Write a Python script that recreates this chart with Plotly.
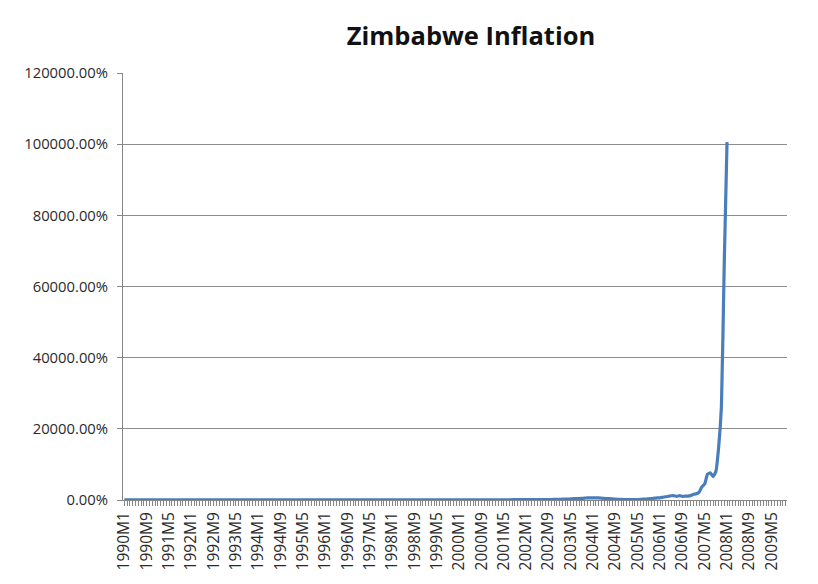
import plotly.graph_objects as go

# Monthly categories 1990M1 .. 2009M10
years = list(range(1990, 2010))
categories = [f"{y}M{m}" for y in years for m in range(1, 13)][:238]

# Annual inflation (%), monthly, 1990M1 .. 2008M1
inflation = [
    15.5, 15.9, 16.2, 16.0, 16.5, 17.1, 17.3, 17.6, 18.0, 18.5, 19.2, 20.0,          # 1990
    20.5, 21.3, 22.0, 22.6, 23.5, 24.8, 26.1, 28.0, 30.2, 33.5, 36.0, 38.4,          # 1991
    40.1, 42.0, 43.5, 44.8, 46.0, 47.5, 48.2, 47.0, 45.1, 44.0, 43.2, 42.1,          # 1992
    40.3, 38.5, 35.0, 32.4, 30.1, 28.5, 27.0, 25.8, 24.6, 23.2, 22.0, 21.5,          # 1993
    21.0, 20.8, 20.5, 21.2, 21.8, 22.3, 22.6, 22.9, 22.7, 22.4, 22.2, 22.3,          # 1994
    22.6, 23.0, 23.5, 24.1, 24.5, 24.8, 25.0, 25.4, 25.6, 25.3, 25.8, 25.8,          # 1995
    24.8, 24.0, 23.1, 22.5, 21.6, 21.2, 20.8, 20.0, 19.2, 18.6, 17.9, 16.4,          # 1996
    16.0, 15.8, 15.9, 16.5, 17.4, 18.2, 18.4, 18.9, 19.4, 19.6, 20.1, 20.1,          # 1997
    22.4, 23.6, 25.3, 26.8, 28.1, 29.4, 32.0, 33.5, 35.8, 37.2, 44.0, 46.6,          # 1998
    47.5, 50.1, 53.4, 56.7, 59.9, 60.6, 61.5, 64.2, 66.0, 68.8, 63.3, 56.9,          # 1999
    60.0, 61.5, 61.3, 58.2, 59.8, 60.2, 59.0, 57.8, 59.0, 58.7, 56.4, 55.2,          # 2000
    57.0, 60.3, 61.5, 63.3, 67.1, 70.8, 73.5, 77.5, 87.0, 99.3, 103.8, 112.1,        # 2001
    116.7, 112.1, 116.4, 113.6, 118.9, 114.0, 122.5, 135.1, 139.0, 144.4, 175.5, 198.9,  # 2002
    208.1, 220.8, 228.0, 269.2, 300.3, 364.5, 399.5, 426.6, 455.6, 525.8, 619.5, 598.7,  # 2003
    622.8, 602.4, 583.3, 505.0, 448.0, 394.6, 362.3, 314.0, 251.5, 209.0, 149.3, 132.7,  # 2004
    133.6, 127.2, 123.7, 129.3, 144.4, 164.3, 254.8, 265.1, 359.8, 411.0, 502.4, 585.8,  # 2005
    613.2, 782.1, 913.6, 1042.9, 1193.5, 1184.6, 993.6, 1204.6, 1023.3, 1070.2, 1098.8, 1281.1,  # 2006
    1593.6, 1729.9, 2200.2, 3714.1, 4530.0, 7251.1, 7634.8, 6592.8, 7982.1, 14840.5, 26470.8, 66212.3,  # 2007
    100580.2,  # 2008M1
]

y_values = inflation + [None] * (len(categories) - len(inflation))

y_ticks = [0, 20000, 40000, 60000, 80000, 100000, 120000]
y_tick_text = [f"{v:.2f}%" for v in y_ticks]
x_tick_text = [c if i % 8 == 0 else "" for i, c in enumerate(categories)]

fig = go.Figure()
fig.add_trace(go.Scatter(
    x=categories, y=y_values, mode="lines",
    line=dict(color="#4A7EBB", width=3.2, shape="spline", smoothing=0.4),
    connectgaps=False, showlegend=False,
))

axis_color = "#868686"
fig.update_layout(
    width=818, height=584,
    margin=dict(l=123, r=31, t=73, b=84),
    paper_bgcolor="white", plot_bgcolor="white",
    title=dict(text="<b>Zimbabwe Inflation</b>", x=471/818, xref="container", xanchor="center",
               y=1 - 36/584, yref="container", yanchor="middle",
               font=dict(family="Open Sans", size=25.5, color="#111111")),
    font=dict(family="Open Sans", color="#222222"),
)
fig.update_xaxes(
    type="category", range=[-0.5, len(categories) - 0.5],
    tickmode="array", tickvals=categories, ticktext=x_tick_text,
    tickangle=-90, ticks="outside", ticklen=5, tickcolor=axis_color, tickwidth=1,
    showline=True, linecolor=axis_color, linewidth=1, showgrid=False,
    tickfont=dict(family="Open Sans", size=15.5, color="#2a2a2a"),
)
fig.update_yaxes(
    range=[0, 120000], tickmode="array", tickvals=y_ticks, ticktext=y_tick_text,
    ticks="outside", ticklen=5, tickcolor=axis_color, tickwidth=1,
    showline=True, linecolor=axis_color, linewidth=1,
    showgrid=True, gridcolor="#8C8C8C", gridwidth=1, zeroline=False,
    ticklabelstandoff=6,
    tickfont=dict(family="Open Sans", size=14.8, color="#2a2a2a"),
)

fig.write_html("out.html")
